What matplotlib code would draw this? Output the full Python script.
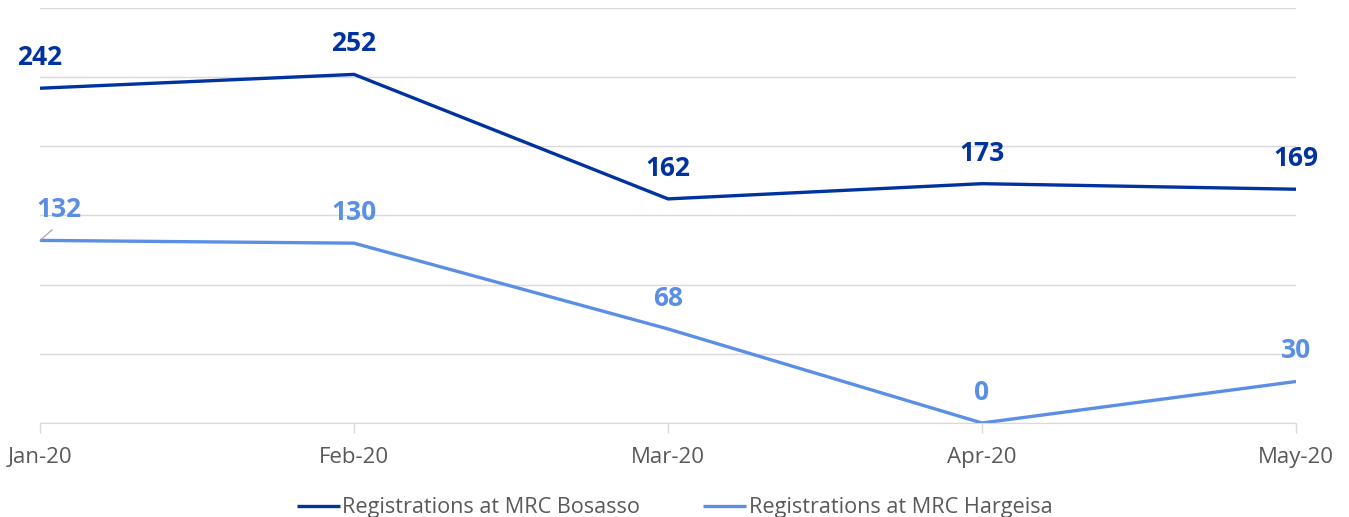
import matplotlib.pyplot as plt
import numpy as np

plt.rcParams['font.family'] = ['Open Sans', 'DejaVu Sans']

months = ['Jan-20', 'Feb-20', 'Mar-20', 'Apr-20', 'May-20']
bosasso = [242, 252, 162, 173, 169]
hargeisa = [132, 130, 68, 0, 30]

dark = '#0033a0'
light = '#5b8fe6'
grid_col = '#d9d9d9'

fig = plt.figure(figsize=(13.49, 5.17), dpi=100)
ax = fig.add_axes([40 / 1349, 1 - 423 / 517, 1256 / 1349, 415 / 517])

x = np.arange(len(months))
ax.plot(x, bosasso, color=dark, lw=2.4, label='Registrations at MRC Bosasso', solid_capstyle='butt')
ax.plot(x, hargeisa, color=light, lw=2.4, label='Registrations at MRC Hargeisa', solid_capstyle='butt')

for i, v in enumerate(bosasso):
    ax.annotate(str(v), (i, v), xytext=(0, 22), textcoords='offset points',
                ha='center', va='center', fontsize=19, fontweight='bold', color=dark)

for i, v in enumerate(hargeisa):
    if i == 0:
        # label pushed aside, with leader line
        ax.annotate(str(v), (i, v), xytext=(14, 22), textcoords='offset points',
                    ha='center', va='center', fontsize=19, fontweight='bold', color=light,
                    arrowprops=dict(arrowstyle='-', color='#a6a6a6', lw=0.9,
                                    relpos=(0.5, 0), shrinkA=4, shrinkB=0))
    else:
        ax.annotate(str(v), (i, v), xytext=(0, 22), textcoords='offset points',
                    ha='center', va='center', fontsize=19, fontweight='bold', color=light)

ax.set_xlim(0, 4)
ax.set_ylim(0, 300)
ax.set_yticks(np.arange(0, 301, 50))
ax.yaxis.grid(True, color=grid_col, lw=1)
ax.set_axisbelow(True)
ax.tick_params(axis='y', left=False, labelleft=False)
ax.set_xticks(x, labels=months)
ax.tick_params(axis='x', colors=grid_col, length=7, width=1, labelcolor='#595959',
               labelsize=16, pad=10)
for s in ['top', 'right', 'left']:
    ax.spines[s].set_visible(False)
ax.spines['bottom'].set_color(grid_col)

fig.legend(loc='lower center', bbox_to_anchor=(0.5, -0.04), ncol=2, frameon=False,
           fontsize=15.6, labelcolor='#595959', handlelength=2.0, handletextpad=0.1,
           columnspacing=2.9)

plt.savefig('out.png', dpi=100)
